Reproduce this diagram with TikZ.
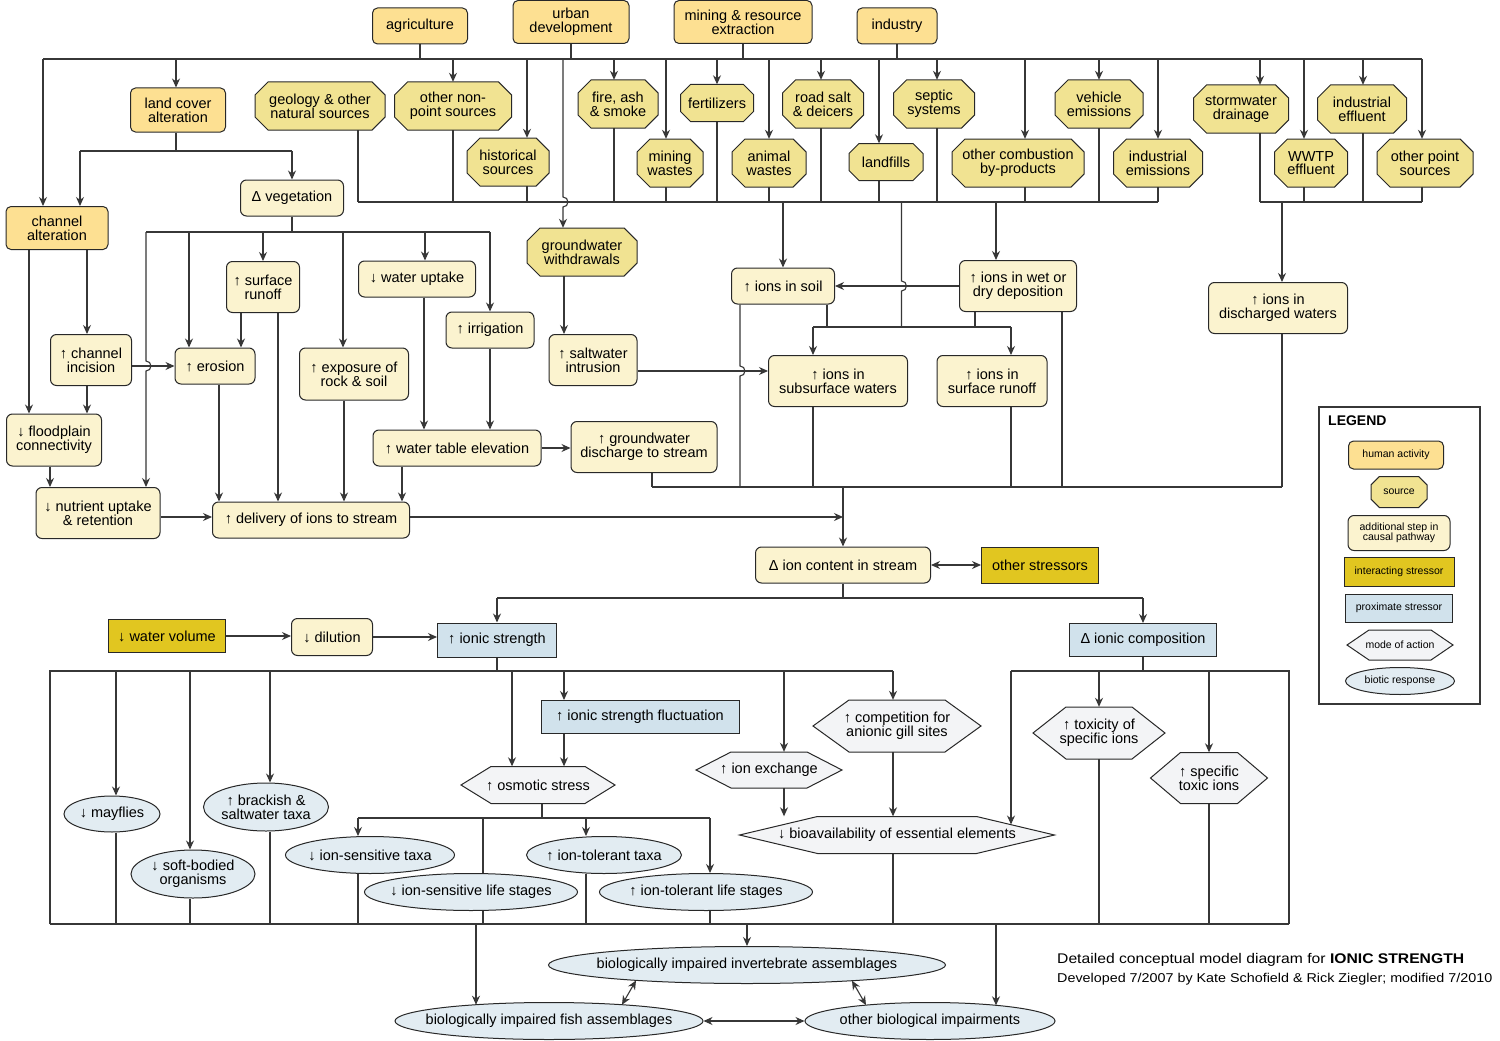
\documentclass[tikz,border=0pt]{standalone}
\usepackage{fontspec}
\setmainfont{Liberation Sans}
\newfontfamily\wideft{Liberation Sans}[FakeStretch=1.12]
\usetikzlibrary{arrows.meta,calc,shapes.geometric}
\pgfdeclarelayer{bg}\pgfsetlayers{bg,main}
\definecolor{lnc}{RGB}{55,55,55}
\definecolor{bdc}{RGB}{40,40,40}
\definecolor{humc}{RGB}{253,224,146}
\definecolor{srcc}{RGB}{241,227,146}
\definecolor{stpc}{RGB}{251,243,207}
\definecolor{intc}{RGB}{225,198,32}
\definecolor{proxc}{RGB}{209,226,236}
\definecolor{modec}{RGB}{243,244,246}
\definecolor{bioc}{RGB}{226,236,242}
\newcommand\nfs{\fontsize{14.5}{13.8}\selectfont}
\newcommand\lfs{\fontsize{10.5}{10.5}\selectfont}
\newcommand\rn[7]{\node[#1, minimum width=#5pt, minimum height=#6pt] (#2) at (#3,#4) {#7};}
\newcommand\octn[7][]{%
 \pgfmathsetmacro\octc{0.27*#6}%
 \draw[srcs] ({#3-#5/2+\octc},{#4-#6/2}) -- ({#3+#5/2-\octc},{#4-#6/2}) -- ({#3+#5/2},{#4-#6/2+\octc}) -- ({#3+#5/2},{#4+#6/2-\octc}) -- ({#3+#5/2-\octc},{#4+#6/2}) -- ({#3-#5/2+\octc},{#4+#6/2}) -- ({#3-#5/2},{#4+#6/2-\octc}) -- ({#3-#5/2},{#4-#6/2+\octc}) -- cycle;
 \node[txt, minimum width=#5pt, minimum height=#6pt, #1] (#2) at (#3,#4) {#7};}
\newcommand\hexn[8][]{%
 \draw[modes] ({#3-#5/2},{#4}) -- ({#3-#5/2+#7},{#4-#6/2}) -- ({#3+#5/2-#7},{#4-#6/2}) -- ({#3+#5/2},{#4}) -- ({#3+#5/2-#7},{#4+#6/2}) -- ({#3-#5/2+#7},{#4+#6/2}) -- cycle;
 \node[txt, minimum width=#5pt, minimum height=#6pt, #1] (#2) at (#3,#4) {#8};}
\newcommand\elln[7][]{%
 \node[bio, minimum width=#5pt, minimum height=#6pt] (#2) at (#3,#4) {};
 \node[txt, #1] at (#2) {#7};}
\newcommand\busarr[2]{\draw[arr] (#1,59) -- (#1,0 |- #2.north);}
\newcommand\srcstub[2]{\draw[ln] (#1,0 |- #2.south) -- (#1,202);}
\newcommand\botstub[2]{\draw[ln] (#1,0 |- #2.south) -- (#1,924);}
\begin{document}
\begin{tikzpicture}[x=1pt,y=-1pt,
 ln/.style={draw=lnc, line width=1.1pt},
 arr/.style={ln, -{Stealth[length=9pt,width=8pt]}},
 darr/.style={ln, {Stealth[length=9pt,width=8pt]}-{Stealth[length=9pt,width=8pt]}},
 box/.style={draw=bdc, line width=1pt, inner sep=0pt, align=center, font=\nfs},
 hum/.style={box, fill=humc, rounded corners=5pt},
 stp/.style={box, fill=stpc, rounded corners=6pt},
 inter/.style={box, fill=intc},
 prox/.style={box, fill=proxc},
 bio/.style={draw=bdc, line width=1pt, inner sep=0pt, ellipse, fill=bioc},
 srcs/.style={draw=bdc, line width=1pt, fill=srcc},
 modes/.style={draw=bdc, line width=1pt, fill=modec},
 txt/.style={inner sep=0pt, align=center, font=\nfs}]
\useasboundingbox (0,0) rectangle (1500,1041);

% human activities
\rn{hum}{agri}{420}{26}{95}{36}{agriculture}
\rn{hum}{urban}{571}{22}{116}{43}{urban\\development}
\rn{hum}{mining}{743}{22}{138}{43}{mining \& resource\\extraction}
\rn{hum}{industry}{897}{26}{80}{36}{industry}
\rn{hum}{landcov}{178}{110}{95}{44}{land cover\\alteration}
\rn{hum}{chanalt}{57}{228}{102}{43}{channel\\alteration}

% sources
\octn{geol}{320}{106}{130}{48}{geology \& other\\natural sources}
\octn{nonpt}{453}{106}{117}{48}{other non-\\point sources}
\octn{hist}{508}{162}{82}{48}{historical\\sources}
\octn{fire}{618}{104}{80}{48}{fire, ash\\\& smoke}
\octn{minw}{670}{163}{66}{48}{mining\\wastes}
\octn{fert}{717}{103}{73}{37}{fertilizers}
\octn{animw}{769}{163}{74}{48}{animal\\wastes}
\octn{roads}{823}{104}{81}{48}{road salt\\\& deicers}
\octn{landf}{886}{162}{74}{37}{landfills}
\octn{septic}{934}{104}{81}{48}{septic\\systems}
\octn{ocomb}{1018}{163}{132}{48}{other combustion\\by-products}
\octn{vehic}{1099}{104}{88}{48}{vehicle\\emissions}
\octn{indem}{1158}{163}{89}{48}{industrial\\emissions}
\octn{storm}{1241}{109}{95}{48}{stormwater\\drainage}
\octn{wwtp}{1311}{163}{73}{48}{WWTP\\effluent}
\octn{indeff}{1362}{109}{89}{48}{industrial\\effluent}
\octn{opt}{1425}{163}{96}{48}{other point\\sources}
\octn{gww}{582}{252}{110}{48}{groundwater\\withdrawals}

% additional steps
\rn{stp}{veg}{292}{198}{103}{36}{Δ vegetation}
\rn{stp}{surfr}{263}{287}{73}{51}{↑ surface\\runoff}
\rn{stp}{wupt}{417}{279}{117}{36}{↓ water uptake}
\rn{stp}{irrig}{490}{330}{88}{36}{↑ irrigation}
\rn{stp}{chinc}{91}{360}{81}{51}{↑ channel\\incision}
\rn{stp}{eros}{215}{366}{80}{36}{↑ erosion}
\rn{stp}{expo}{354}{374}{109}{52}{↑ exposure of\\rock \& soil}
\rn{stp}{flood}{54}{440}{95}{52}{↓ floodplain\\connectivity}
\rn{stp}{wtab}{457}{448}{168}{36}{↑ water table elevation}
\rn{stp}{nutr}{98}{513}{124}{51}{↓ nutrient uptake\\\& retention}
\rn{stp}{deliv}{311}{520}{197}{36}{↑ delivery of ions to stream}
\rn{stp}{saltw}{593}{360}{88}{51}{↑ saltwater\\intrusion}
\rn{stp}{gwdis}{644}{447}{146}{51}{↑ groundwater\\discharge to stream}
\rn{stp}{isoil}{783}{286}{103}{36}{↑ ions in soil}
\rn{stp}{iwet}{1018}{286}{117}{51}{↑ ions in wet or\\dry deposition}
\rn{stp}{isub}{838}{381}{139}{51}{↑ ions in\\subsurface waters}
\rn{stp}{isurf}{992}{381}{110}{51}{↑ ions in\\surface runoff}
\rn{stp}{idis}{1278}{308}{139}{51}{↑ ions in\\discharged waters}
\rn{stp}{ionc}{843}{565}{175}{36}{Δ ion content in stream}
\rn{stp}{dilu}{332}{637}{81}{37}{↓ dilution}

% interacting / proximate stressors
\rn{inter}{othst}{1040}{565}{117}{36}{other stressors}
\rn{inter}{wvol}{167}{636}{117}{33}{↓ water volume}
\rn{prox}{ionstr}{497}{640}{119}{34}{↑ ionic strength}
\rn{prox}{ioncomp}{1143}{640}{147}{33}{Δ ionic composition}
\rn{prox}{fluct}{640}{717}{198}{33}{↑ ionic strength fluctuation}

% modes of action
\hexn{osmo}{538}{785}{154}{37}{30}{↑ osmotic stress}
\hexn{iex}{769}{770}{146}{36}{35}{↑ ion exchange}
\hexn{comp}{897}{726}{168}{52}{36}{↑ competition for\\anionic gill sites}
\hexn{bioav}{897}{835}{315}{37}{78}{↓ bioavailability of essential elements}
\hexn{toxi}{1099}{733}{132}{52}{33}{↑ toxicity of\\specific ions}
\hexn{spec}{1209}{778}{117}{51}{30}{↑ specific\\toxic ions}

% biotic responses
\elln{mayf}{112}{814}{96}{36}{↓ mayflies}
\elln{soft}{193}{874}{124}{48}{↓ soft-bodied\\organisms}
\elln{brack}{266}{807}{125}{48}{↑ brackish \&\\saltwater taxa}
\elln{isens}{370}{855}{169}{37}{↓ ion-sensitive taxa}
\elln{isensl}{471}{892}{213}{37}{↓ ion-sensitive life stages}
\elln{itol}{604}{855}{155}{37}{↑ ion-tolerant taxa}
\elln{itoll}{706}{892}{213}{37}{↑ ion-tolerant life stages}
\elln{invert}{747}{965}{397}{37}{biologically impaired invertebrate assemblages}
\elln{fish}{549}{1021}{308}{37}{biologically impaired fish assemblages}
\elln{otherb}{930}{1021}{250}{37}{other biological impairments}

% legend
\node[anchor=west, inner sep=0pt, font=\bfseries\fontsize{14}{14}\selectfont] (legt) at (1328,421) {LEGEND};
\rn{hum,font=\lfs}{lg1}{1396}{455}{95}{28}{human activity}
\octn[font=\lfs]{lg2}{1399}{492}{56}{31}{source}
\rn{stp,font=\lfs}{lg3}{1399}{533}{102}{35}{additional step in\\causal pathway}
\rn{inter,font=\lfs}{lg4}{1399}{572}{110}{29}{interacting stressor}
\rn{prox,font=\lfs}{lg5}{1399}{608}{107}{28}{proximate stressor}
\hexn[font=\lfs]{lg6}{1400}{645}{106}{30}{22}{mode of action}
\elln[font=\lfs]{lg7}{1400}{681}{109}{27}{biotic response}

% title
\node[anchor=base west, inner sep=0pt, font=\wideft\fontsize{14}{15}\selectfont] (t1) at (1057,963) {Detailed conceptual model diagram for \textbf{IONIC STRENGTH}};
\node[anchor=base west, inner sep=0pt, font=\wideft\fontsize{12.8}{13}\selectfont] (t2) at (1057,982) {Developed 7/2007 by Kate Schofield \& Rick Ziegler; modified 7/2010};

\begin{pgfonlayer}{bg}
\fill[white] (0,0) rectangle (1500,1041);
\draw[ln] (1319,407) rectangle (1480,704);
% top bus
\draw[ln] (43,59) -- (1422,59);
\foreach \n in {agri,urban,mining,industry} \draw[ln] (\n.south) -- (\n.south |- 0,59);
\busarr{43}{chanalt}\busarr{176}{landcov}\busarr{453}{nonpt}\busarr{527}{hist}
\busarr{614}{fire}\busarr{666}{minw}\busarr{717}{fert}\busarr{769}{animw}
\busarr{821}{roads}\busarr{879}{landf}\busarr{937}{septic}\busarr{1025}{ocomb}
\busarr{1099}{vehic}\busarr{1158}{indem}\busarr{1260}{storm}\busarr{1304}{wwtp}
\busarr{1363}{indeff}\busarr{1422}{opt}
\draw[arr] (563,59) -- (563,197) arc[start angle=-90,end angle=90,radius=5] -- (563,0 |- gww.north);
% source collector lines
\srcstub{358}{geol}\srcstub{453}{nonpt}\srcstub{527}{hist}\srcstub{614}{fire}
\srcstub{666}{minw}\srcstub{717}{fert}\srcstub{769}{animw}\srcstub{821}{roads}
\srcstub{879}{landf}\srcstub{937}{septic}\srcstub{1025}{ocomb}\srcstub{1099}{vehic}
\srcstub{1158}{indem}\srcstub{1260}{storm}\srcstub{1304}{wwtp}\srcstub{1363}{indeff}
\srcstub{1422}{opt}
\draw[ln] (358,202) -- (1158,202);
\draw[ln] (1260,202) -- (1422,202);
\draw[arr] (783,202) -- (783,0 |- isoil.north);
\draw[ln] (901.5,202) -- (901.5,281) arc[start angle=-90,end angle=90,radius=5] -- (901.5,327);
\draw[arr] (996,202) -- (996,0 |- iwet.north);
\draw[arr] (1282,202) -- (1282,0 |- idis.north);
% land cover
\draw[ln] (176,0 |- landcov.south) -- (176,151);
\draw[ln] (80,151) -- (292,151);
\draw[arr] (80,151) -- (80,0 |- chanalt.north);
\draw[arr] (292,151) -- (veg.north);
% vegetation
\draw[ln] (veg.south) -- (292,232);
\draw[ln] (146,232) -- (490,232);
\draw[arr] (146,232) -- (146,361) arc[start angle=-90,end angle=90,radius=5] -- (146,0 |- nutr.north);
\draw[arr] (189,232) -- (189,0 |- eros.north);
\draw[arr] (263,232) -- (surfr.north);
\draw[arr] (343,232) -- (343,0 |- expo.north);
\draw[arr] (425,232) -- (425,0 |- wupt.north);
\draw[arr] (490,232) -- (490,0 |- irrig.north);
% channel
\draw[arr] (29,0 |- chanalt.south) -- (29,0 |- flood.north);
\draw[arr] (87,0 |- chanalt.south) -- (87,0 |- chinc.north);
\draw[arr] (87,0 |- chinc.south) -- (87,0 |- flood.north);
\draw[arr] (chinc.east |- eros.west) -- (eros.west);
\draw[arr] (50,0 |- flood.south) -- (50,0 |- nutr.north);
\draw[arr] (nutr.east |- 0,517) -- (deliv.west |- 0,517);
\draw[arr] (241,0 |- surfr.south) -- (241,0 |- eros.north);
\draw[arr] (278,0 |- surfr.south) -- (278,0 |- deliv.north);
\draw[arr] (219,0 |- eros.south) -- (219,0 |- deliv.north);
\draw[arr] (344,0 |- expo.south) -- (344,0 |- deliv.north);
\draw[arr] (424,0 |- wupt.south) -- (424,0 |- wtab.north);
\draw[arr] (490,0 |- irrig.south) -- (490,0 |- wtab.north);
\draw[arr] (402,0 |- wtab.south) -- (402,0 |- deliv.north);
\draw[arr] (wtab.east) -- (gwdis.west |- wtab.east);
\draw[arr] (deliv.east |- 0,517) -- (843,517);
% groundwater / ions
\draw[arr] (564,0 |- gww.south) -- (564,0 |- saltw.north);
\draw[arr] (saltw.east |- 0,371) -- (isub.west |- 0,371);
\draw[ln] (740,0 |- isoil.south) -- (740,366) arc[start angle=-90,end angle=90,radius=5] -- (740,487);
\draw[ln] (827,0 |- isoil.south) -- (827,327);
\draw[arr] (iwet.west) -- (isoil.east);
\draw[ln] (975,0 |- iwet.south) -- (975,327);
\draw[ln] (1062,0 |- iwet.south) -- (1062,487);
\draw[ln] (813,327) -- (1011,327);
\draw[arr] (813,327) -- (813,0 |- isub.north);
\draw[arr] (1011,327) -- (1011,0 |- isurf.north);
\draw[ln] (813,0 |- isub.south) -- (813,487);
\draw[ln] (1011,0 |- isurf.south) -- (1011,487);
\draw[ln] (652,0 |- gwdis.south) -- (652,487);
\draw[ln] (1282,0 |- idis.south) -- (1282,487);
\draw[ln] (652,487) -- (1282,487);
\draw[arr] (843,487) -- (ionc.north);
\draw[darr] (ionc.east) -- (othst.west);
\draw[ln] (ionc.south) -- (843,598);
\draw[ln] (497,598) -- (1143,598);
\draw[arr] (497,598) -- (ionstr.north);
\draw[arr] (1143,598) -- (ioncomp.north);
\draw[arr] (wvol.east) -- (dilu.west |- wvol.east);
\draw[arr] (dilu.east |- 0,637) -- (ionstr.west |- 0,637);
% ionic strength branch
\draw[ln] (ionstr.south) -- (497,671);
\draw[ln] (50,924) -- (50,671) -- (893,671);
\draw[arr] (116,671) -- (116,0 |- mayf.north);
\draw[arr] (190,671) -- (190,0 |- soft.north);
\draw[arr] (270,671) -- (270,0 |- brack.north);
\draw[arr] (512,671) -- (512,0 |- osmo.north);
\draw[arr] (564,671) -- (564,0 |- fluct.north);
\draw[arr] (784,671) -- (784,0 |- iex.north);
\draw[arr] (893,671) -- (893,0 |- comp.north);
\draw[arr] (564,0 |- fluct.south) -- (564,0 |- osmo.north);
\draw[ln] (542,0 |- osmo.south) -- (542,818);
\draw[ln] (358,818) -- (710,818);
\draw[arr] (358,818) -- (358,0 |- isens.north);
\draw[arr] (586,818) -- (586,0 |- itol.north);
\draw[arr] (710,818) -- (710,0 |- itoll.north);
\draw[ln] (483,818) -- (483,924);
\draw[arr] (784,0 |- iex.south) -- (784,0 |- bioav.north);
\draw[arr] (893,0 |- comp.south) -- (893,0 |- bioav.north);
% ionic composition branch
\draw[ln] (ioncomp.south) -- (1143,671);
\draw[ln] (1011,671) -- (1289,671) -- (1289,924);
\coordinate (bioavr) at (1011,824.5);
\draw[arr] (1011,671) -- (bioavr);
\draw[arr] (1099,671) -- (1099,0 |- toxi.north);
\draw[arr] (1209,671) -- (1209,0 |- spec.north);
% bottom collector
\botstub{116}{mayf}\botstub{190}{soft}\botstub{270}{brack}\botstub{358}{isens}
\botstub{586}{itol}\botstub{710}{itoll}\botstub{893}{bioav}\botstub{1099}{toxi}
\botstub{1209}{spec}
\draw[ln] (50,924) -- (1289,924);
\coordinate (fishtop) at (476,1004.7);
\coordinate (othtop) at (996,1005.3);
\draw[arr] (476,924) -- (fishtop);
\draw[arr] (747,924) -- (invert.north);
\draw[arr] (996,924) -- (othtop);
\draw[darr] (fish.east) -- (otherb.west);
\coordinate (ia) at (636,980.5); \coordinate (fa) at (622,1004.7);
\coordinate (ib) at (852,980.7); \coordinate (ob) at (866,1005.1);
\draw[darr] (ia) -- (fa);
\draw[darr] (ib) -- (ob);
\end{pgfonlayer}
\end{tikzpicture}
\end{document}
